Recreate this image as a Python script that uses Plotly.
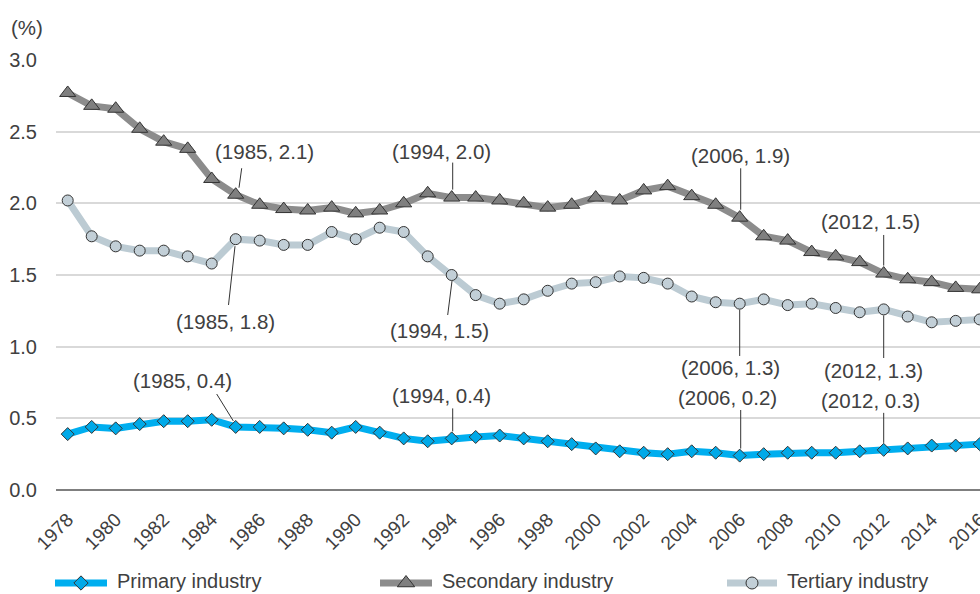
import plotly.graph_objects as go

# ---------------- data ----------------
years = list(range(1978, 2017))
primary = [0.39, 0.44, 0.43, 0.46, 0.48, 0.48, 0.49, 0.44, 0.44, 0.43, 0.42, 0.40,
           0.44, 0.40, 0.36, 0.34, 0.36, 0.37, 0.38, 0.36, 0.34, 0.32,
           0.29, 0.27, 0.26, 0.25, 0.27, 0.26, 0.24, 0.25, 0.26, 0.26,
           0.26, 0.27, 0.28, 0.29, 0.31, 0.31, 0.32]
secondary = [2.77, 2.68, 2.66, 2.52, 2.43, 2.38, 2.17, 2.06, 1.99, 1.96, 1.95, 1.97,
             1.93, 1.95, 2.00, 2.07, 2.04, 2.04, 2.02, 2.00, 1.97, 1.99,
             2.04, 2.02, 2.09, 2.12, 2.05, 1.99, 1.90, 1.77, 1.74, 1.66,
             1.63, 1.59, 1.51, 1.47, 1.45, 1.41, 1.40]
tertiary = [2.02, 1.77, 1.70, 1.67, 1.67, 1.63, 1.58, 1.75, 1.74, 1.71, 1.71, 1.80,
            1.75, 1.83, 1.80, 1.63, 1.50, 1.36, 1.30, 1.33, 1.39, 1.44,
            1.45, 1.49, 1.48, 1.44, 1.35, 1.31, 1.30, 1.33, 1.29, 1.30,
            1.27, 1.24, 1.26, 1.21, 1.17, 1.18, 1.19]
series_names = ["Primary industry", "Secondary industry", "Tertiary industry"]
x_tick_vals = list(range(1978, 2017, 2))
x_tick_text = [str(y) for y in x_tick_vals]
y_tick_vals = [0.0, 0.5, 1.0, 1.5, 2.0, 2.5, 3.0]
y_tick_text = ["0.0", "0.5", "1.0", "1.5", "2.0", "2.5", "3.0"]

# ---------------- styles ----------------
W, H = 980, 594
FONT = "Liberation Sans, Arial, sans-serif"
TXT = "#404040"
OUT = "#333333"
styles = {
    "Primary industry": dict(line="#00aeef", fill="#00a9e8", symbol="diamond", size=10),
    "Secondary industry": dict(line="#8c8c8c", fill="#7f7f7f", symbol="triangle-up", size=14),
    "Tertiary industry": dict(line="#bccbd3", fill="#c2cfd7", symbol="circle", size=11),
}
values = {"Primary industry": primary, "Secondary industry": secondary, "Tertiary industry": tertiary}

fig = go.Figure()
for name in ["Tertiary industry", "Secondary industry", "Primary industry"]:
    s = styles[name]
    fig.add_trace(go.Scatter(
        x=years, y=values[name], mode="lines+markers", name=name, showlegend=False,
        line=dict(color=s["line"], width=7),
        marker=dict(symbol=s["symbol"], size=s["size"], color=s["fill"],
                    line=dict(color=OUT, width=1)),
        xaxis="x", yaxis="y"))

# ---------------- callouts (text offsets in px; leader line offsets in px, y up) ----------------
callout_layout = {
    ("Secondary industry", 1985): dict(t=(29, 43), l=(6, 26.5, 3.3, 7)),
    ("Tertiary industry", 1985): dict(t=(-10.7, -82.5), l=(-0.7, -7, -7.2, -65.8)),
    ("Primary industry", 1985): dict(t=(-53, 46), l=(-19, 32.9, -2.4, 6)),
    ("Secondary industry", 1994): dict(t=(-10, 46), l=(1, 35, 1, 8)),
    ("Tertiary industry", 1994): dict(t=(-12.4, -55.7), l=(0.3, -6, -4, -40)),
    ("Primary industry", 1994): dict(t=(-10, 43.4), l=(1, 30, 1, 7)),
    ("Secondary industry", 2006): dict(t=(1, 61.7), l=(1, 49.4, 1, 8)),
    ("Tertiary industry", 2006): dict(t=(-9.7, -63.6), l=(0, -6, 0, -52.3)),
    ("Primary industry", 2006): dict(t=(-12.4, 58.3), l=(1, 45.6, 1, 7)),
    ("Secondary industry", 2012): dict(t=(-13, 52), l=(0, 38.6, 0, 8)),
    ("Tertiary industry", 2012): dict(t=(-10.4, -61.3), l=(0, -6, 0, -48.6)),
    ("Primary industry", 2012): dict(t=(-13, 49.2), l=(0, 37, 0, 7)),
}
annotations = []
shapes = []
for (name, yr), c in callout_layout.items():
    v = values[name][years.index(yr)]
    annotations.append(dict(
        x=yr, y=v, xref="x", yref="y", showarrow=False,
        text=f"({yr}, {v:.1f})", xshift=c["t"][0], yshift=c["t"][1],
        font=dict(family=FONT, size=20.5, color=TXT)))
    x0, y0, x1, y1 = c["l"]
    shapes.append(dict(
        type="line", xref="x", yref="y", xsizemode="pixel", ysizemode="pixel",
        xanchor=yr, yanchor=v, x0=x0, y0=y0, x1=x1, y1=y1,
        line=dict(color="#333333", width=1), layer="above"))

# ---------------- custom legend on a pixel overlay ----------------
legend_pos = {"Primary industry": (55, 107), "Secondary industry": (380, 432), "Tertiary industry": (727, 777)}
LEG_Y = 581
for name in series_names:
    s = styles[name]
    a, b = legend_pos[name]
    fig.add_trace(go.Scatter(
        x=[a, (a + b) / 2, b], y=[LEG_Y + 2] * 3, mode="lines+markers", showlegend=False,
        hoverinfo="skip",
        line=dict(color=s["line"], width=7),
        marker=dict(symbol=s["symbol"], size=s["size"] + 1, color=s["fill"],
                    opacity=[0, 1, 0], line=dict(color=OUT, width=1)),
        xaxis="x2", yaxis="y2", cliponaxis=False))
    annotations.append(dict(x=b + 8, y=LEG_Y, xref="x2", yref="y2", xanchor="left",
                            yanchor="middle", showarrow=False, text=name,
                            font=dict(family=FONT, size=20, color=TXT)))

annotations.append(dict(x=9, y=27, xref="x2", yref="y2", xanchor="left", yanchor="middle",
                        showarrow=False, text="(%)", font=dict(family=FONT, size=20.5, color=TXT)))

px_per_year = 24.0
x_first_px = 67.7
plot_left, plot_top, plot_bottom = 56, 60, 490

fig.update_layout(
    template="none",
    width=W, height=H,
    margin=dict(l=0, r=0, t=0, b=0),
    paper_bgcolor="white", plot_bgcolor="rgba(0,0,0,0)",
    font=dict(family=FONT, size=20, color=TXT),
    showlegend=False,
    xaxis=dict(
        domain=[plot_left / W, 1],
        range=[years[0] - (x_first_px - plot_left) / px_per_year,
               years[0] + (W - x_first_px) / px_per_year],
        tickmode="array", tickvals=x_tick_vals, ticktext=x_tick_text, tickangle=-45,
        ticks="outside", ticklen=10, tickcolor="rgba(0,0,0,0)",
        ticklabeloverflow="allow",
        tickfont=dict(family=FONT, size=19, color=TXT),
        showgrid=False, zeroline=False, showline=False, automargin=False, anchor="y"),
    yaxis=dict(
        domain=[(H - plot_bottom) / H, (H - plot_top) / H],
        range=[0, 3.0],
        tickmode="array", tickvals=y_tick_vals, ticktext=y_tick_text,
        ticks="outside", ticklen=14, tickcolor="rgba(0,0,0,0)",
        tickfont=dict(family=FONT, size=20, color=TXT),
        showgrid=True, gridcolor="#d9d9d9", gridwidth=1.5,
        zeroline=True, zerolinecolor="#7f7f7f", zerolinewidth=2,
        showline=False, automargin=False, anchor="x"),
    xaxis2=dict(domain=[0, 1], range=[0, W], visible=False, anchor="y2", fixedrange=True),
    yaxis2=dict(domain=[0, 1], range=[H, 0], visible=False, anchor="x2", fixedrange=True),
    annotations=annotations,
    shapes=shapes,
)

fig.write_html("out.html", config={"displayModeBar": False},
               post_script="document.body.style.margin='0';document.body.style.overflow='hidden';")
